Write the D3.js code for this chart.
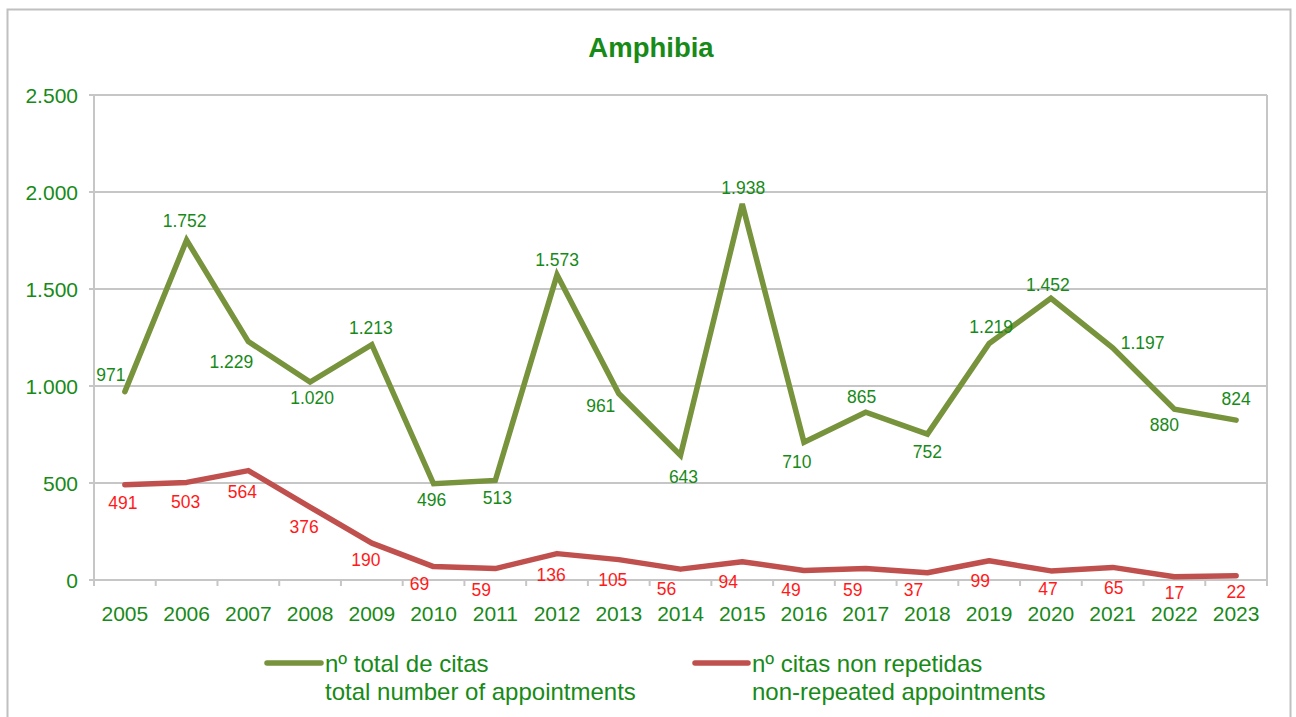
<!DOCTYPE html>
<html>
<head>
<meta charset="utf-8">
<script src="https://cdn.jsdelivr.net/npm/d3@7"></script>
<style>
  html, body { margin: 0; padding: 0; background: #fff; }
  svg { display: block; font-family: "Liberation Sans", Arial, sans-serif; }
</style>
</head>
<body>
<svg id="chart" width="1296" height="717"></svg>
<script>
// ---- data ----
const years = ["2005","2006","2007","2008","2009","2010","2011","2012","2013","2014","2015","2016","2017","2018","2019","2020","2021","2022","2023"];
const totalCitas = [971,1752,1229,1020,1213,496,513,1573,961,643,1938,710,865,752,1219,1452,1197,880,824];
const nonRepeated = [491,503,564,376,190,69,59,136,105,56,94,49,59,37,99,47,65,17,22];
const yTicks = [0,500,1000,1500,2000,2500];
const titleText = "Amphibia";
const seriesNames = [
  ["nº total de citas", "total number of appointments"],
  ["nº citas non repetidas", "non-repeated appointments"]
];

// label offsets (style: where each data label sits relative to its point)
const totalLabelDx = [-14,-2,-17,2,-1,-2,2,0,-18,3,1,-7,-4,0,2,-3,30,-10,0];
const totalLabelDy = [-17,-19,20,16,-17,16,18,-15,12,22,-16,20,-15,18,-17,-13,-5,16,-21];
const redLabelDx = [-2,-1,-6,-6,-6,-14,-14,-6,-6,-14,-14,-13,-13,-14,-9,-3,1,0,0];
const redLabelDy = [18,20,21,20,17,17,21,21,20,20,20,20,21,17,20,18,21,16,16];

// ---- layout ----
const svg = d3.select("#chart");
const plot = {left: 94, top: 95, right: 1267, bottom: 580};
const green = "#178a17";
const red = "#ff1a1a";
const olive = "#77933C";
const brick = "#C0504D";
const grid = "#c6c6c6";

// outer frame
svg.append("rect").attr("x", 7.5).attr("y", 9.5).attr("width", 1283).attr("height", 730)
  .attr("fill", "#fff").attr("stroke", "#c0c0c0").attr("stroke-width", 2);

const x = d3.scaleBand().domain(years).range([plot.left, plot.right]).padding(0);
const y = d3.scaleLinear().domain([0, 2500]).range([plot.bottom, plot.top]);
const cx = d => x(d) + x.bandwidth() / 2;

const fmt = v => d3.format(",")(v).replace(/,/g, ".");

// gridlines
svg.append("g").selectAll("line").data(yTicks).join("line")
  .attr("x1", plot.left - 5).attr("x2", plot.right)
  .attr("y1", d => y(d)).attr("y2", d => y(d))
  .attr("stroke", grid).attr("stroke-width", 2);

// plot border left & right
svg.append("line").attr("x1", plot.left).attr("x2", plot.left).attr("y1", plot.top).attr("y2", plot.bottom + 6)
  .attr("stroke", grid).attr("stroke-width", 2);
svg.append("line").attr("x1", plot.right).attr("x2", plot.right).attr("y1", plot.top).attr("y2", plot.bottom + 6)
  .attr("stroke", grid).attr("stroke-width", 2);

// x tick marks at category boundaries
const bounds = years.map(d => x(d)).concat([plot.right]);
svg.append("g").selectAll("line").data(bounds).join("line")
  .attr("x1", d => d).attr("x2", d => d)
  .attr("y1", plot.bottom).attr("y2", plot.bottom + 6)
  .attr("stroke", grid).attr("stroke-width", 2);

// y tick labels
svg.append("g").selectAll("text").data(yTicks).join("text")
  .attr("x", 78).attr("y", d => y(d))
  .attr("text-anchor", "end").attr("dominant-baseline", "central")
  .attr("fill", green).attr("font-size", 21)
  .text(d => fmt(d));

// x tick labels
svg.append("g").selectAll("text").data(years).join("text")
  .attr("x", d => cx(d)).attr("y", 613)
  .attr("text-anchor", "middle").attr("dominant-baseline", "central")
  .attr("fill", green).attr("font-size", 21)
  .text(d => d);

// title
svg.append("text").attr("x", 651).attr("y", 47)
  .attr("text-anchor", "middle").attr("dominant-baseline", "central")
  .attr("fill", green).attr("font-size", 27.5).attr("font-weight", "bold")
  .text(titleText);

// lines
const line = d3.line().x((d, i) => cx(years[i])).y(d => y(d));
svg.append("path").datum(nonRepeated).attr("d", line)
  .attr("fill", "none").attr("stroke", brick).attr("stroke-width", 5.5)
  .attr("stroke-linejoin", "round").attr("stroke-linecap", "round");
svg.append("path").datum(totalCitas).attr("d", line)
  .attr("fill", "none").attr("stroke", olive).attr("stroke-width", 5.5)
  .attr("stroke-linejoin", "miter").attr("stroke-linecap", "round");

// data labels
svg.append("g").selectAll("text").data(totalCitas).join("text")
  .attr("x", (d, i) => cx(years[i]) + totalLabelDx[i])
  .attr("y", (d, i) => y(d) + totalLabelDy[i])
  .attr("text-anchor", "middle").attr("dominant-baseline", "central")
  .attr("fill", green).attr("font-size", 17.5)
  .text(d => fmt(d));
svg.append("g").selectAll("text").data(nonRepeated).join("text")
  .attr("x", (d, i) => cx(years[i]) + redLabelDx[i])
  .attr("y", (d, i) => y(d) + redLabelDy[i])
  .attr("text-anchor", "middle").attr("dominant-baseline", "central")
  .attr("fill", red).attr("font-size", 17.5)
  .text(d => fmt(d));

// legend
const legend = [
  {x1: 267, x2: 321, tx: 325, color: olive, lines: seriesNames[0]},
  {x1: 695, x2: 748, tx: 752, color: brick, lines: seriesNames[1]}
];
legend.forEach(l => {
  svg.append("line").attr("x1", l.x1).attr("x2", l.x2).attr("y1", 663).attr("y2", 663)
    .attr("stroke", l.color).attr("stroke-width", 5.5).attr("stroke-linecap", "round");
  l.lines.forEach((t, j) => {
    svg.append("text").attr("x", l.tx).attr("y", 663 + j * 28)
      .attr("dominant-baseline", "central").attr("fill", green).attr("font-size", 24)
      .text(t);
  });
});
</script>
</body>
</html>
